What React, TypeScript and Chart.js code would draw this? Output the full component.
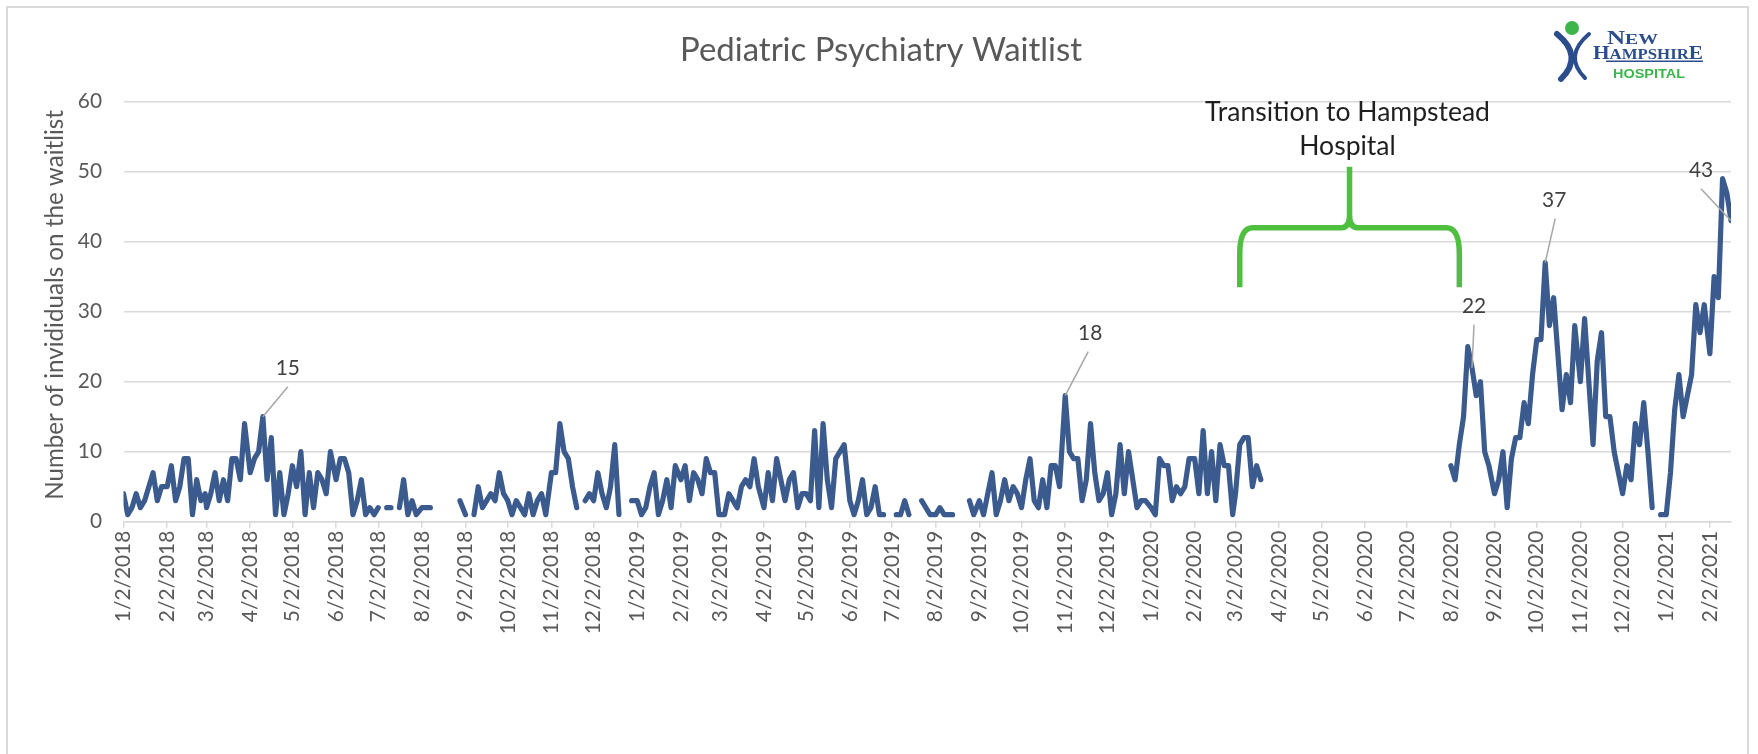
import React, { useEffect, useRef } from 'react';
import { Chart, registerables } from 'chart.js';

Chart.register(...registerables);

const W = 1758;
const H = 754;
const FONT = 'Lato, "Open Sans", sans-serif';
const SERIF = '"Liberation Serif", "DejaVu Serif", serif';

const CHART_TITLE = 'Pediatric Psychiatry Waitlist';
const Y_AXIS_TITLE = 'Number of invididuals on the waitlist';
const NOTE_LINES = ['Transition to Hampstead', 'Hospital'];

// day-of-month sampled in every month row below
const SAMPLE_DAYS = [2, 5, 8, 11, 14, 17, 20, 23, 26, 29];

const X_TICK_LABELS = [
  '1/2/2018', '2/2/2018', '3/2/2018', '4/2/2018', '5/2/2018', '6/2/2018',
  '7/2/2018', '8/2/2018', '9/2/2018', '10/2/2018', '11/2/2018', '12/2/2018',
  '1/2/2019', '2/2/2019', '3/2/2019', '4/2/2019', '5/2/2019', '6/2/2019',
  '7/2/2019', '8/2/2019', '9/2/2019', '10/2/2019', '11/2/2019', '12/2/2019',
  '1/2/2020', '2/2/2020', '3/2/2020', '4/2/2020', '5/2/2020', '6/2/2020',
  '7/2/2020', '8/2/2020', '9/2/2020', '10/2/2020', '11/2/2020', '12/2/2020',
  '1/2/2021', '2/2/2021',
];
const X_END = '2/17/2021';

const Y_MIN = 0;
const Y_MAX = 60;
const Y_STEP = 10;

// waitlist counts, one row per month, values at SAMPLE_DAYS
const waitlist2018: (number | null)[][] = [
  [4, 1, 2, 4, 2, 3, 5, 7, 3, 5],
  [5, 8, 3, 5, 9, 9, 1, 6, 3, 4],
  [2, 4, 7, 3, 6, 3, 9, 9, 6, 14],
  [7, 9, 10, 15, 6, 12, 1, 7, 1, 4],
  [8, 5, 10, 1, 7, 2, 7, 6, 4, 10],
  [6, 9, 9, 7, 1, 3, 6, 1, 2, 1],
  [2, null, 2, 2, null, 2, 6, 1, 3, 1],
  [2, 2, 2, null, null, null, null, null, null, 3],
  [1, null, 1, 5, 2, 3, 4, 3, 7, 4],
  [3, 1, 3, 2, 1, 4, 1, 3, 4, 1],
  [7, 7, 14, 10, 9, 5, 2, null, 3, 4],
  [3, 7, 4, 2, 5, 11, 1, null, null, 3],
];

const waitlist2019: (number | null)[][] = [
  [3, 1, 2, 5, 7, 1, 3, 6, 2, 8],
  [6, 8, 3, 7, 6, 4, 9, 7, 7, 1],
  [1, 1, 4, 3, 2, 5, 6, 5, 9, 5],
  [2, 7, 3, 9, 6, 3, 6, 7, 2, 4],
  [4, 3, 13, 2, 14, 6, 2, 9, 10, 11],
  [3, 1, 3, 6, 1, 2, 5, 1, 1, null],
  [null, 1, 1, 3, 1, null, null, 3, 2, 1],
  [1, 2, 1, 1, 1, null, null, null, 3, 1],
  [3, 1, 4, 7, 1, 3, 6, 3, 5, 4],
  [2, 6, 9, 3, 2, 6, 2, 8, 8, 5],
  [18, 10, 9, 9, 3, 6, 14, 7, 3, 4],
  [7, 1, 4, 11, 4, 10, 6, 2, 3, 3],
];

const waitlist2020: (number | null)[][] = [
  [2, 1, 9, 8, 8, 3, 5, 4, 5, 9],
  [9, 4, 13, 4, 10, 3, 11, 8, 8, 1],
  [4, 11, 12, 12, 5, 8, 6, null, null, null],
  [null, null, null, null, null, null, null, null, null, null],
  [null, null, null, null, null, null, null, null, null, null],
  [null, null, null, null, null, null, null, null, null, null],
  [null, null, null, null, null, null, null, null, null, null],
  [8, 6, 11, 15, 25, 22, 18, 20, 10, 8],
  [4, 6, 10, 2, 9, 12, 12, 17, 14, 21],
  [26, 26, 37, 28, 32, 24, 16, 21, 17, 28],
  [20, 29, 20, 11, 23, 27, 15, 15, 10, 7],
  [4, 8, 6, 14, 11, 17, 10, 2, null, 1],
];

const waitlist2021: (number | null)[][] = [
  [1, 7, 16, 21, 15, 18, 21, 31, 27, 31],
  [24, 35, 32, 49, 47, 43],
];

const YEARS = [2018, 2019, 2020, 2021];
const YEAR_ROWS = [waitlist2018, waitlist2019, waitlist2020, waitlist2021];

// value callouts: anchor date/value, leader end offset, label offset (px)
const CALLOUTS = [
  { date: '4/11/2018', value: 15, text: '15', lx: 25, ly: -30, dx: 25, dy: -48 },
  { date: '11/2/2019', value: 18, text: '18', lx: 23, ly: -44, dx: 25, dy: -62 },
  { date: '8/17/2020', value: 22, text: '22', lx: 2, ly: -43, dx: 2, dy: -61 },
  { date: '10/8/2020', value: 37, text: '37', lx: 10, ly: -44, dx: 9, dy: -62 },
  { date: '2/17/2021', value: 43, text: '43', lx: -30, ly: -32, dx: -30, dy: -50 },
];

const BRACKET = { from: '3/5/2020', mid: '5/22/2020', to: '8/8/2020', legValue: 33.5, barValue: 42, tipValue: 50.7 };

const LINE_COLOR = '#3b5b8f';
const GRID_COLOR = '#d9d9d9';
const AXIS_TEXT = '#595959';
const LABEL_TEXT = '#404040';
const BRACKET_COLOR = '#4fbf3f';

const ORIGIN = (() => {
  const [m, d, y] = X_TICK_LABELS[0].split('/').map(Number);
  return Date.UTC(y, m - 1, d);
})();
const dayOf = (s: string) => {
  const [m, d, y] = s.split('/').map(Number);
  return (Date.UTC(y, m - 1, d) - ORIGIN) / 86400000;
};

const TICK_DAYS = X_TICK_LABELS.map(dayOf);
const TICK_LABEL_BY_DAY = new Map<number, string>(TICK_DAYS.map((d, i) => [d, X_TICK_LABELS[i]]));

function buildPoints() {
  const pts: { x: number; y: number | null }[] = [];
  YEARS.forEach((year, yi) => {
    YEAR_ROWS[yi].forEach((row, mi) => {
      row.forEach((v, k) => {
        const day = (Date.UTC(year, mi, SAMPLE_DAYS[k]) - ORIGIN) / 86400000;
        pts.push({ x: day, y: v });
      });
    });
  });
  return pts;
}

function fitSize(text: string, target: number, family: string, weight = 'normal') {
  const c = document.createElement('canvas').getContext('2d')!;
  c.font = `${weight} 100px ${family}`;
  return (100 * target) / c.measureText(text).width;
}

function drawParts(
  ctx: CanvasRenderingContext2D,
  parts: [string, number][],
  x: number,
  baseline: number,
  target: number,
  family: string,
  weight: string,
) {
  let total = 0;
  parts.forEach(([t, s]) => {
    ctx.font = `${weight} ${s}px ${family}`;
    total += ctx.measureText(t).width;
  });
  const k = target / total;
  ctx.save();
  ctx.translate(x, baseline);
  ctx.scale(k, 1);
  let cx = 0;
  parts.forEach(([t, s]) => {
    ctx.font = `${weight} ${s}px ${family}`;
    ctx.fillText(t, cx, 0);
    cx += ctx.measureText(t).width;
  });
  ctx.restore();
}

function drawLogo(ctx: CanvasRenderingContext2D) {
  const blue = '#2c4d8c';
  const green = '#3db54a';
  ctx.save();
  ctx.fillStyle = green;
  ctx.beginPath();
  ctx.arc(1572, 28, 7, 0, Math.PI * 2);
  ctx.fill();
  ctx.strokeStyle = blue;
  ctx.lineCap = 'round';
  ctx.lineWidth = 6;
  ctx.beginPath();
  ctx.moveTo(1557, 34);
  ctx.quadraticCurveTo(1584, 56, 1561, 79);
  ctx.stroke();
  ctx.lineWidth = 4;
  ctx.beginPath();
  ctx.moveTo(1589, 34);
  ctx.quadraticCurveTo(1563, 56, 1585, 78);
  ctx.stroke();
  ctx.fillStyle = blue;
  ctx.textAlign = 'left';
  ctx.textBaseline = 'alphabetic';
  drawParts(ctx, [['N', 19], ['EW', 15]], 1607, 44, 51, SERIF, 'bold');
  drawParts(ctx, [['H', 19], ['AMPSHIR', 15], ['E', 19]], 1593, 59, 110, SERIF, 'bold');
  ctx.fillRect(1606, 60.5, 97, 1.5);
  ctx.fillStyle = green;
  drawParts(ctx, [['HOSPITAL', 13]], 1613, 78, 72, 'Arial, "Liberation Sans", sans-serif', 'bold');
  ctx.restore();
}

export default function App() {
  const ref = useRef<HTMLCanvasElement>(null);

  useEffect(() => {
    const canvas = ref.current!;
    const tickSize = fitSize('1/2/2018', 91.5, FONT);
    const titleSize = fitSize(CHART_TITLE, 402, FONT);
    const yTitleSize = fitSize(Y_AXIS_TITLE, 390, FONT);
    const noteSize = fitSize(NOTE_LINES[0], 285, FONT);

    const decor = {
      id: 'decor',
      afterDatasetsDraw(chart: any) {
        const { ctx } = chart;
        const xs = chart.scales.x;
        const ys = chart.scales.y;
        ctx.save();
        // callouts
        CALLOUTS.forEach((c) => {
          const px = xs.getPixelForValue(dayOf(c.date));
          const py = ys.getPixelForValue(c.value);
          ctx.strokeStyle = '#a6a6a6';
          ctx.lineWidth = 1.5;
          ctx.beginPath();
          ctx.moveTo(px, py);
          ctx.lineTo(px + c.lx, py + c.ly);
          ctx.stroke();
          ctx.fillStyle = LABEL_TEXT;
          ctx.font = `${tickSize}px ${FONT}`;
          ctx.textAlign = 'center';
          ctx.textBaseline = 'middle';
          ctx.fillText(c.text, px + c.dx, py + c.dy);
        });
        // bracket
        const xl = xs.getPixelForValue(dayOf(BRACKET.from));
        const xm = xs.getPixelForValue(dayOf(BRACKET.mid));
        const xr = xs.getPixelForValue(dayOf(BRACKET.to));
        const yLeg = ys.getPixelForValue(BRACKET.legValue);
        const yBar = ys.getPixelForValue(BRACKET.barValue);
        const yTip = ys.getPixelForValue(BRACKET.tipValue);
        ctx.strokeStyle = BRACKET_COLOR;
        ctx.lineWidth = 5.5;
        ctx.lineJoin = 'round';
        ctx.lineCap = 'butt';
        ctx.beginPath();
        ctx.moveTo(xl, yLeg);
        ctx.lineTo(xl, yBar + 26);
        ctx.quadraticCurveTo(xl, yBar, xl + 13, yBar);
        ctx.lineTo(xm - 8, yBar);
        ctx.quadraticCurveTo(xm, yBar, xm, yBar - 13);
        ctx.lineTo(xm, yTip);
        ctx.moveTo(xm, yBar - 13);
        ctx.quadraticCurveTo(xm, yBar, xm + 8, yBar);
        ctx.lineTo(xr - 13, yBar);
        ctx.quadraticCurveTo(xr, yBar, xr, yBar + 26);
        ctx.lineTo(xr, yLeg);
        ctx.stroke();
        // note text
        ctx.fillStyle = '#1f1f1f';
        ctx.font = `${noteSize}px ${FONT}`;
        ctx.textAlign = 'center';
        ctx.textBaseline = 'alphabetic';
        ctx.fillText(NOTE_LINES[1], xm - 2, yTip - 12);
        ctx.fillText(NOTE_LINES[0], xm - 2, yTip - 46);
        ctx.restore();
      },
      afterDraw(chart: any) {
        const { ctx } = chart;
        ctx.save();
        // outer frame
        ctx.strokeStyle = GRID_COLOR;
        ctx.lineWidth = 2;
        ctx.beginPath();
        ctx.moveTo(7, H + 5);
        ctx.lineTo(7, 7);
        ctx.lineTo(1748, 7);
        ctx.lineTo(1748, H + 5);
        ctx.stroke();
        // title
        ctx.fillStyle = AXIS_TEXT;
        ctx.font = `${titleSize}px ${FONT}`;
        ctx.textAlign = 'center';
        ctx.textBaseline = 'middle';
        ctx.fillText(CHART_TITLE, 881, 50);
        // y title
        ctx.translate(55, 305);
        ctx.rotate(-Math.PI / 2);
        ctx.font = `${yTitleSize}px ${FONT}`;
        ctx.fillText(Y_AXIS_TITLE, 0, 0);
        ctx.restore();
        drawLogo(ctx);
      },
    };

    const chart = new Chart(canvas, {
      type: 'line',
      data: {
        datasets: [
          {
            data: buildPoints() as any,
            borderColor: LINE_COLOR,
            backgroundColor: LINE_COLOR,
            borderWidth: 5.2,
            pointRadius: 0,
            pointHoverRadius: 0,
            tension: 0,
            spanGaps: false,
            borderJoinStyle: 'round',
            borderCapStyle: 'round',
          },
        ],
      },
      options: {
        animation: false,
        responsive: false,
        maintainAspectRatio: false,
        events: [],
        layout: { padding: { top: 101.7, right: W - 1731, left: 0, bottom: 0 } },
        plugins: { legend: { display: false }, tooltip: { enabled: false }, title: { display: false } },
        scales: {
          x: {
            type: 'linear',
            min: 0,
            max: dayOf(X_END),
            afterBuildTicks: (s: any) => {
              s.ticks = TICK_DAYS.map((v) => ({ value: v }));
            },
            afterFit: (s: any) => {
              s.height = H - 521.7;
            },
            ticks: {
              autoSkip: false,
              maxRotation: 90,
              minRotation: 90,
              color: AXIS_TEXT,
              padding: 3,
              font: { family: FONT, size: tickSize },
              callback: (v: any) => TICK_LABEL_BY_DAY.get(v) ?? '',
            },
            grid: { drawOnChartArea: false, drawTicks: true, tickLength: 6, color: GRID_COLOR, lineWidth: 1.5 },
            border: { display: true, color: GRID_COLOR, width: 1.5 },
          },
          y: {
            min: Y_MIN,
            max: Y_MAX,
            afterFit: (s: any) => {
              s.width = 123.5;
            },
            ticks: { stepSize: Y_STEP, color: AXIS_TEXT, padding: 21.5, font: { family: FONT, size: tickSize } },
            grid: { color: GRID_COLOR, lineWidth: 1.5, drawTicks: false },
            border: { display: false },
          },
        },
      },
      plugins: [decor],
    } as any);

    return () => chart.destroy();
  }, []);

  return (
    <div style={{ position: 'absolute', left: 0, top: 0, width: W, height: H, background: '#ffffff' }}>
      <canvas ref={ref} width={W} height={H} style={{ width: W, height: H, display: 'block' }} />
    </div>
  );
}
